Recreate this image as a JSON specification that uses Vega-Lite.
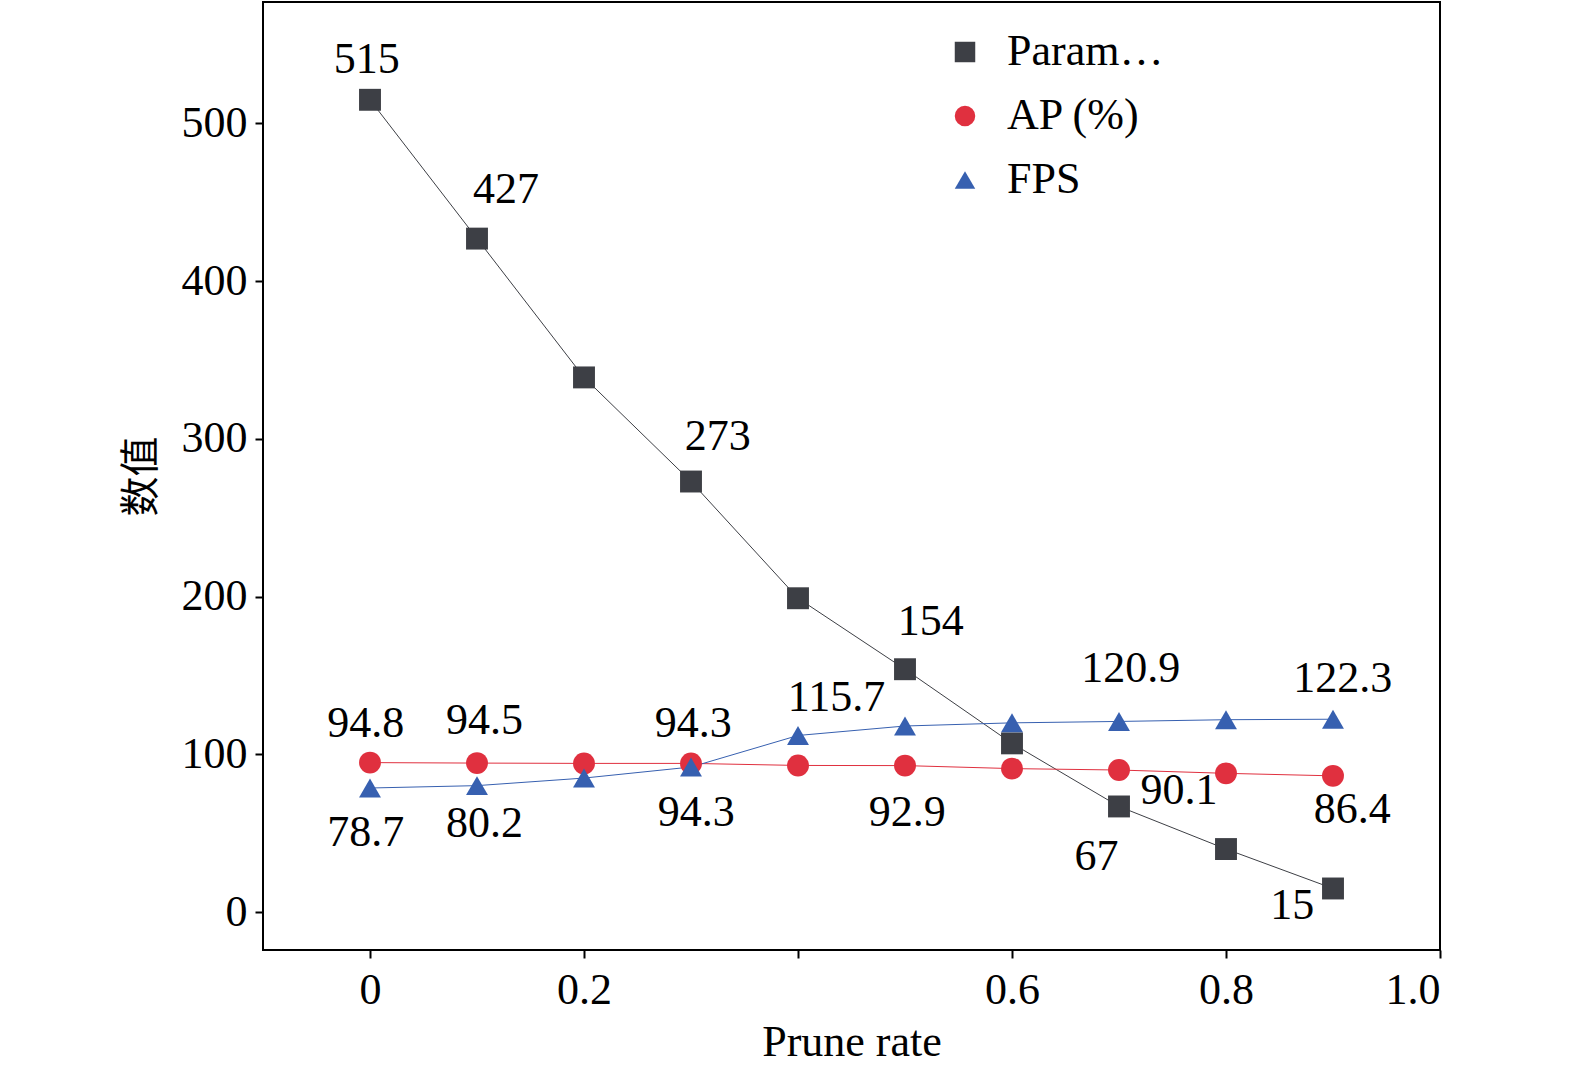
{
  "$schema": "https://vega.github.io/schema/vega-lite/v6.json",
  "autosize": {"type": "none"},
  "padding": {"left": 263, "top": 2, "right": 135, "bottom": 126},
  "width": 1177,
  "height": 948,
  "config": {
    "font": "Liberation Serif",
    "view": {"stroke": "black", "strokeWidth": 2},
    "axis": {"grid": false, "domain": false, "labelFont": "Liberation Serif", "labelFontSize": 44, "labelColor": "black", "titleFontSize": 44, "titleColor": "black", "titleFontWeight": "normal", "tickColor": "black", "tickWidth": 2, "tickSize": 8},
    "legend": {"orient": "none", "legendX": 680, "legendY": 28, "labelFontSize": 44, "labelFont": "Liberation Serif", "labelColor": "black", "symbolSize": 420, "rowPadding": 20, "labelOffset": 20, "symbolStrokeWidth": 0}
  },
  "datasets": {
    "series": [
      {"x": 0, "v": 515, "s": "Parameters (M)"}, {"x": 0.1, "v": 427, "s": "Parameters (M)"}, {"x": 0.2, "v": 339, "s": "Parameters (M)"}, {"x": 0.3, "v": 273, "s": "Parameters (M)"}, {"x": 0.4, "v": 199, "s": "Parameters (M)"}, {"x": 0.5, "v": 154, "s": "Parameters (M)"}, {"x": 0.6, "v": 107, "s": "Parameters (M)"}, {"x": 0.7, "v": 67, "s": "Parameters (M)"}, {"x": 0.8, "v": 40, "s": "Parameters (M)"}, {"x": 0.9, "v": 15, "s": "Parameters (M)"},
      {"x": 0, "v": 94.8, "s": "AP (%)"}, {"x": 0.1, "v": 94.5, "s": "AP (%)"}, {"x": 0.2, "v": 94.3, "s": "AP (%)"}, {"x": 0.3, "v": 94.3, "s": "AP (%)"}, {"x": 0.4, "v": 93, "s": "AP (%)"}, {"x": 0.5, "v": 92.9, "s": "AP (%)"}, {"x": 0.6, "v": 91, "s": "AP (%)"}, {"x": 0.7, "v": 90.1, "s": "AP (%)"}, {"x": 0.8, "v": 88, "s": "AP (%)"}, {"x": 0.9, "v": 86.4, "s": "AP (%)"},
      {"x": 0, "v": 78.7, "s": "FPS"}, {"x": 0.1, "v": 80.2, "s": "FPS"}, {"x": 0.2, "v": 85, "s": "FPS"}, {"x": 0.3, "v": 92, "s": "FPS"}, {"x": 0.4, "v": 112, "s": "FPS"}, {"x": 0.5, "v": 118, "s": "FPS"}, {"x": 0.6, "v": 120, "s": "FPS"}, {"x": 0.7, "v": 120.9, "s": "FPS"}, {"x": 0.8, "v": 122, "s": "FPS"}, {"x": 0.9, "v": 122.3, "s": "FPS"}
    ],
    "labels": [
      {"x": -0.003, "v": 540, "t": "515"}, {"x": 0.127, "v": 458, "t": "427"}, {"x": 0.325, "v": 301, "t": "273"}, {"x": 0.524, "v": 184, "t": "154"}, {"x": 0.679, "v": 35, "t": "67"}, {"x": 0.862, "v": 4, "t": "15"},
      {"x": -0.004, "v": 119, "t": "94.8"}, {"x": 0.107, "v": 121, "t": "94.5"}, {"x": 0.302, "v": 119, "t": "94.3"}, {"x": 0.436, "v": 136, "t": "115.7"}, {"x": 0.711, "v": 154, "t": "120.9"}, {"x": 0.909, "v": 148, "t": "122.3"},
      {"x": -0.004, "v": 50, "t": "78.7"}, {"x": 0.107, "v": 56, "t": "80.2"}, {"x": 0.305, "v": 63, "t": "94.3"}, {"x": 0.502, "v": 63, "t": "92.9"}, {"x": 0.756, "v": 77, "t": "90.1"}, {"x": 0.918, "v": 65, "t": "86.4"}
    ]
  },
  "encoding": {
    "x": {"field": "x", "type": "quantitative", "scale": {"domain": [-0.1, 1.0], "nice": false}, "axis": {"values": [0, 0.2, 0.4, 0.6, 0.8, 1.0], "labelExpr": "datum.value == 0.4 ? '' : (datum.value == 0 ? '0' : format(datum.value, '.1f'))", "title": "Prune rate", "titlePadding": 8, "labelPadding": 10}},
    "y": {"field": "v", "type": "quantitative", "scale": {"domain": [-24, 577], "nice": false, "zero": false}, "axis": {"values": [0, 100, 200, 300, 400, 500], "title": "数值", "titleFont": "Noto Sans CJK SC", "titleFontSize": 40, "titlePadding": 20, "labelPadding": 8}}
  },
  "layer": [
    {
      "data": {"name": "series"},
      "mark": {"type": "line", "strokeWidth": 1},
      "encoding": {
        "color": {"field": "s", "type": "nominal", "scale": {"domain": ["Parameters (M)", "AP (%)", "FPS"], "range": ["#3d3f45", "#e0303f", "#3760b0"]}, "title": null},
        "detail": {"field": "s"}
      }
    },
    {
      "data": {"name": "series"},
      "mark": {"type": "point", "filled": true, "size": 480, "opacity": 1},
      "encoding": {
        "color": {"field": "s", "type": "nominal", "scale": {"domain": ["Parameters (M)", "AP (%)", "FPS"], "range": ["#3d3f45", "#e0303f", "#3760b0"]}, "title": null},
        "shape": {"field": "s", "type": "nominal", "scale": {"domain": ["Parameters (M)", "AP (%)", "FPS"], "range": ["square", "circle", "triangle-up"]}, "title": null}
      }
    },
    {
      "data": {"name": "labels"},
      "mark": {"type": "text", "fontSize": 44, "font": "Liberation Serif", "color": "black", "baseline": "middle", "align": "center"},
      "encoding": {"text": {"field": "t"}}
    }
  ]
}
